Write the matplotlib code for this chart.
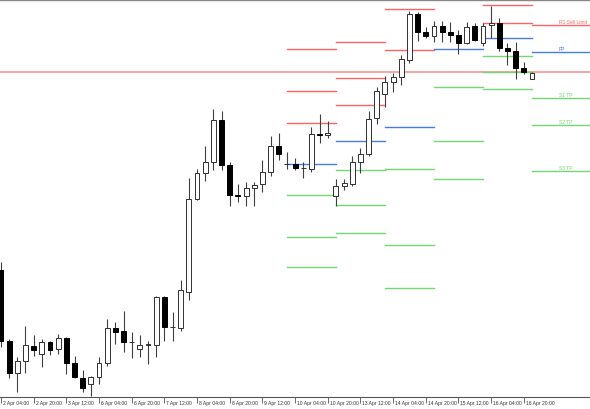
import numpy as np
import pandas as pd
import matplotlib
matplotlib.use("Agg")
import matplotlib.pyplot as plt
import matplotlib.transforms as mtransforms

# 4h bars, 2 Apr 04:00 .. 17 Apr 00:00 (weekends skipped)
opens = [1.0729, 1.0658, 1.0626, 1.0638, 1.0653, 1.0645, 1.0657, 1.0650, 1.0661, 1.0636,
         1.0621, 1.0615, 1.0622, 1.0636, 1.0671, 1.0668, 1.0657, 1.0650, 1.0654, 1.0654,
         1.0702, 1.0672, 1.0671, 1.0707, 1.0800, 1.0826, 1.0837, 1.0879, 1.0834, 1.0804,
         1.0803, 1.0811, 1.0815, 1.0827, 1.0853, 1.0835, 1.0835, 1.0831, 1.0830, 1.0865,
         1.0864, 1.0803, 1.0813, 1.0815, 1.0837, 1.0845, 1.0881, 1.0905, 1.0917, 1.0922,
         1.0939, 1.0985, 1.0967, 1.0963, 1.0973, 1.0967, 1.0964, 1.0956, 1.0973, 1.0956,
         1.0974, 1.0976, 1.0951, 1.0948, 1.0931, 1.0920]
highs = [1.0737, 1.0660, 1.0642, 1.0673, 1.0664, 1.0660, 1.0658, 1.0665, 1.0662, 1.0643,
         1.0629, 1.0623, 1.0642, 1.0680, 1.0677, 1.0688, 1.0667, 1.0664, 1.0658, 1.0703,
         1.0703, 1.0687, 1.0719, 1.0821, 1.0830, 1.0853, 1.0890, 1.0888, 1.0837, 1.0815,
         1.0817, 1.0817, 1.0839, 1.0863, 1.0866, 1.0847, 1.0841, 1.0837, 1.0872, 1.0885,
         1.0878, 1.0820, 1.0820, 1.0843, 1.0851, 1.0888, 1.0912, 1.0923, 1.0926, 1.0944,
         1.0988, 1.0987, 1.0972, 1.0978, 1.0978, 1.0977, 1.0969, 1.0977, 1.0976, 1.0976,
         1.0993, 1.0981, 1.0956, 1.0957, 1.0937, 1.0927]
lows = [1.0652, 1.0621, 1.0607, 1.0626, 1.0643, 1.0632, 1.0644, 1.0645, 1.0625, 1.0621,
        1.0607, 1.0603, 1.0615, 1.0633, 1.0655, 1.0647, 1.0641, 1.0642, 1.0635, 1.0642,
        1.0658, 1.0658, 1.0668, 1.0699, 1.0799, 1.0818, 1.0829, 1.0829, 1.0793, 1.0797,
        1.0793, 1.0793, 1.0807, 1.0823, 1.0839, 1.0830, 1.0829, 1.0821, 1.0827, 1.0856,
        1.0861, 1.0793, 1.0809, 1.0813, 1.0826, 1.0843, 1.0875, 1.0892, 1.0907, 1.0914,
        1.0936, 1.0958, 1.0961, 1.0957, 1.0957, 1.0957, 1.0945, 1.0955, 1.0958, 1.0953,
        1.0961, 1.0948, 1.0934, 1.0920, 1.0925, 1.0920]
closes = [1.0658, 1.0626, 1.0638, 1.0654, 1.0649, 1.0657, 1.0649, 1.0661, 1.0636, 1.0622,
          1.0611, 1.0622, 1.0636, 1.0671, 1.0667, 1.0657, 1.0657, 1.0654, 1.0655, 1.0702,
          1.0672, 1.0672, 1.0709, 1.0800, 1.0826, 1.0837, 1.0879, 1.0834, 1.0804, 1.0803,
          1.0811, 1.0814, 1.0827, 1.0853, 1.0845, 1.0835, 1.0831, 1.0831, 1.0865, 1.0864,
          1.0866, 1.0813, 1.0816, 1.0837, 1.0845, 1.0880, 1.0908, 1.0917, 1.0922, 1.0940,
          1.0985, 1.0967, 1.0963, 1.0973, 1.0967, 1.0964, 1.0956, 1.0972, 1.0959, 1.0973,
          1.0976, 1.0951, 1.0948, 1.0931, 1.0927, 1.0926]

# daily pivot levels (nan = off the chart)
nan = np.nan
pivot_days = ["2015-04-10", "2015-04-13", "2015-04-14", "2015-04-15", "2015-04-16", "2015-04-17"]
r3 = [1.0950, 1.0957, nan, nan, nan, nan]
r2 = [1.0908, 1.0921, 1.0990, nan, 1.0994, nan]
r1 = [1.0876, 1.0894, 1.0949, nan, 1.0976, 1.0974]
pp = [1.0835, 1.0858, 1.0872, 1.0950, 1.0961, 1.0947]
s1 = [1.0804, 1.0829, 1.0830, 1.0912, 1.0943, 1.0901]
s2 = [1.0762, 1.0794, 1.0754, 1.0858, 1.0927, 1.0874]
s3 = [1.0732, 1.0766, 1.0711, 1.0820, 1.0910, 1.0828]
level_line = 1.0927

labels_last = ["R1 Sell Limit", "PP", "S1 TP", "S2 TP", "S3 TP"]

red = "#ff6464"
blue = "#4a7ce8"
green = "#72d872"

# bar times
t = pd.date_range("2015-04-02 04:00", "2015-04-17 00:00", freq="4h")
t = t[t.weekday < 5]
x = np.arange(len(t))

o = np.array(opens); h = np.array(highs); l = np.array(lows); c = np.array(closes)
up = c >= o

plt.rcParams["font.family"] = ["Liberation Sans", "DejaVu Sans"]

fig = plt.figure(figsize=(5.9, 4.1), dpi=100)
ax = fig.add_axes([0, 12 / 410, 1, 397 / 410])

xmax = 72.1
ax.set_xlim(-0.12, xmax)
ax.set_ylim(1.0602, 1.0999)

# long horizontal level
ax.axhline(level_line, color="#f4a8a8", lw=1.5, zorder=1)

# pivot segments
day_start = [int(np.searchsorted(t, pd.Timestamp(d))) for d in pivot_days]
for k, d0 in enumerate(day_start):
    x0 = d0
    x1 = day_start[k + 1] if k + 1 < len(day_start) else xmax
    for vals, col in [(r3, red), (r2, red), (r1, red), (pp, blue),
                      (s1, green), (s2, green), (s3, green)]:
        if not np.isnan(vals[k]):
            ax.plot([x0, x1], [vals[k], vals[k]], color=col, lw=1.0, zorder=2)

# labels for current day
lx = (559 - 1) / 8.17
for txt, val, col in zip(labels_last, [r1[-1], pp[-1], s1[-1], s2[-1], s3[-1]],
                         [red, blue, green, green, green]):
    ax.text(lx, val + 0.00012, txt, color=col, fontsize=3.6, va="bottom", ha="left")

# candles
ax.vlines(x, l, h, color="#404040", lw=0.8, zorder=3)
bw = 0.6
ax.bar(x[up], c[up] - o[up], bottom=o[up], width=bw, color="white",
       edgecolor="#303030", lw=0.7, zorder=4)
ax.bar(x[~up], o[~up] - c[~up], bottom=c[~up], width=bw, color="black",
       edgecolor="black", lw=0.7, zorder=4)

# axes styling
for s in ["left", "right"]:
    ax.spines[s].set_visible(False)
ax.spines["top"].set_color("#888888")
ax.spines["top"].set_linewidth(1.0)
ax.spines["bottom"].set_color("#555555")
ax.spines["bottom"].set_linewidth(0.8)
ax.set_yticks([])

ticks = x[::4]
ax.set_xticks(ticks)
ax.set_xticklabels([f"{d.day} {d.strftime('%b %H:%M')}" for d in t[::4]])
ax.tick_params(axis="x", length=4, width=0.6, color="#555555", pad=-1.5,
               labelsize=3.6, labelcolor="#333333")
off = mtransforms.ScaledTranslation(2 / 100, 0, fig.dpi_scale_trans)
for lab in ax.get_xticklabels():
    lab.set_ha("left")
    lab.set_transform(lab.get_transform() + off)

fig.savefig("out.png", dpi=100)
